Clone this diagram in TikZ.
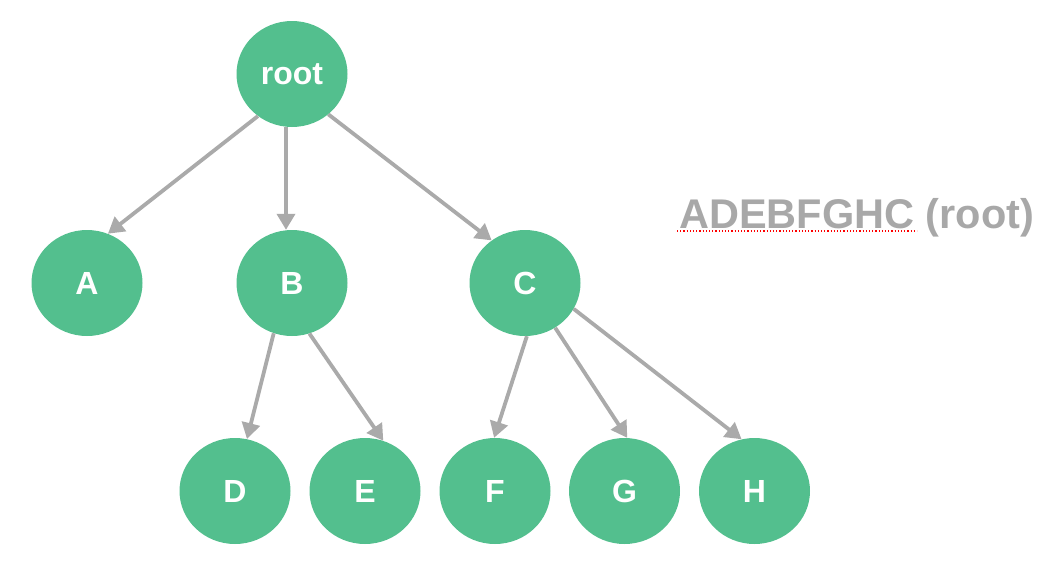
\documentclass[tikz,border=0pt]{standalone}
\usepackage{fontspec}
\setmainfont{Liberation Sans}
\usetikzlibrary{arrows.meta,shapes.geometric}
\definecolor{nodegreen}{RGB}{83,191,142}
\definecolor{edgegray}{RGB}{170,170,170}
\definecolor{textgray}{RGB}{168,168,168}
\tikzset{
  treenode/.style={ellipse, fill=nodegreen, draw=none, minimum width=111pt, minimum height=106pt, inner sep=0pt,
    text=white, font=\bfseries\fontsize{32}{32}\selectfont},
  edge/.style={draw=edgegray, line width=3.8pt, -{Triangle[width=18pt,length=16pt]}}
}
\begin{document}
\begin{tikzpicture}[x=1pt,y=-1pt]
\useasboundingbox (0,0) rectangle (1060,570);
\node[treenode] (root) at (292,74) {root};
\node[treenode] (A) at (87,283) {A};
\node[treenode] (B) at (292,283) {B};
\node[treenode] (C) at (525,283) {C};
\node[treenode] (D) at (235,491) {D};
\node[treenode] (E) at (365,491) {E};
\node[treenode] (F) at (495,491) {F};
\node[treenode] (G) at (624.5,491) {G};
\node[treenode] (H) at (754.5,491) {H};

\draw[edge] (root.231.7) -- (A.67.7);
\draw[edge] ([xshift=-6pt]root.south) -- ([xshift=-6pt]B.north);
\draw[edge] (root.312.1) -- (C.128.8);
\draw[edge] (B.250.2) -- (D.77.8);
\draw[edge] (B.289.8) -- (E.70);
\draw[edge] (C.272.5) -- (F.91);
\draw[edge] (C.304.3) -- (G.87.3);
\draw[edge] (C.332.5) -- (H.104.8);

\node[anchor=base west, inner sep=0pt, text=textgray, font=\bfseries\fontsize{41.5}{41.5}\selectfont] (trav) at (679,228) {ADEBFGHC (root)};
\draw[red, dotted, line width=1.2pt] ([xshift=-2pt,yshift=-3pt]trav.base west) -- ++(240,0);
\end{tikzpicture}
\end{document}
